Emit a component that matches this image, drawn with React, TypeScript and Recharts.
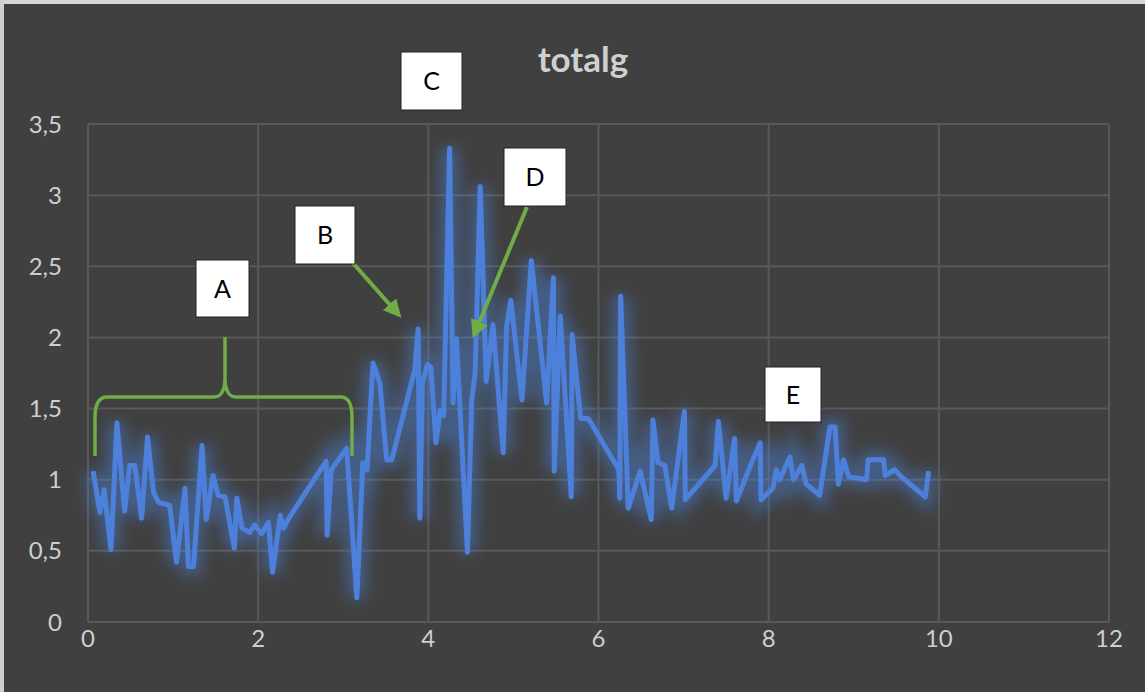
import { CartesianGrid, Line, LineChart, XAxis, YAxis } from 'recharts'

// Werte (Zeit in s, totalg)
const timeS = [
  0.06, 0.14, 0.19, 0.27, 0.34, 0.43, 0.49, 0.55, 0.63, 0.7, 0.77, 0.83, 0.96, 1.04, 1.14, 1.18,
  1.24, 1.34, 1.39, 1.47, 1.53, 1.61, 1.72, 1.75, 1.81, 1.9, 1.96, 2.04, 2.12, 2.17, 2.26, 2.3,
  2.35, 2.8, 2.81, 2.86, 3.04, 3.16, 3.23, 3.28, 3.35, 3.43, 3.51, 3.57, 3.84, 3.88, 3.9, 3.93,
  3.99, 4.03, 4.09, 4.14, 4.18, 4.25, 4.29, 4.33, 4.46, 4.51, 4.55, 4.61, 4.68, 4.76, 4.88, 4.92,
  4.97, 5.1, 5.21, 5.39, 5.47, 5.48, 5.55, 5.68, 5.69, 5.79, 5.88, 6.24, 6.25, 6.26, 6.35, 6.49,
  6.62, 6.64, 6.7, 6.78, 6.86, 7.01, 7.02, 7.37, 7.41, 7.5, 7.6, 7.62, 7.78, 7.9, 7.91, 8.05,
  8.09, 8.13, 8.25, 8.29, 8.39, 8.44, 8.6, 8.72, 8.78, 8.82, 8.88, 8.94, 9.15, 9.17, 9.35, 9.37,
  9.48, 9.56, 9.84, 9.88,
]
const totalg = [
  1.06, 0.77, 0.93, 0.51, 1.4, 0.78, 1.1, 1.1, 0.73, 1.3, 0.91, 0.84, 0.82, 0.42, 0.94, 0.39,
  0.39, 1.24, 0.72, 1.03, 0.89, 0.88, 0.52, 0.87, 0.66, 0.63, 0.68, 0.62, 0.7, 0.35, 0.75, 0.66,
  0.72, 1.13, 0.61, 1.07, 1.22, 0.17, 1.12, 1.07, 1.82, 1.68, 1.14, 1.14, 1.77, 2.06, 0.73, 1.68,
  1.81, 1.79, 1.26, 1.49, 1.45, 3.33, 1.54, 1.99, 0.49, 1.56, 1.75, 3.06, 1.69, 2.09, 1.19, 2.08,
  2.26, 1.56, 2.54, 1.54, 2.42, 1.06, 2.15, 0.88, 2.02, 1.43, 1.43, 1.07, 0.87, 2.29, 0.8, 1.06,
  0.72, 1.42, 1.12, 1.1, 0.8, 1.48, 0.86, 1.1, 1.41, 0.87, 1.29, 0.85, 1.09, 1.26, 0.86, 0.94,
  1.07, 1.0, 1.16, 1.0, 1.1, 0.97, 0.89, 1.37, 1.37, 0.97, 1.14, 1.02, 1.0, 1.14, 1.14, 1.03,
  1.07, 1.02, 0.88, 1.06,
]
const xTicks = [0, 2, 4, 6, 8, 10, 12]
const yTicks = [0, 0.5, 1, 1.5, 2, 2.5, 3, 3.5]

const data = timeS.map((t, i) => ({ t, g: totalg[i] }))

const FONT = 'Lato, "Open Sans", sans-serif'
const GREEN = '#70ad47'
const tickStyle = { fill: '#cfcfcf', fontSize: 24, fontFamily: FONT }

// Beschriftungskästen A–E
const boxes = [
  { label: 'A', x: 196, y: 260, w: 53, h: 57 },
  { label: 'B', x: 295, y: 206, w: 60, h: 58 },
  { label: 'C', x: 401, y: 52, w: 61, h: 58 },
  { label: 'D', x: 504, y: 148, w: 62, h: 58 },
  { label: 'E', x: 765, y: 367, w: 56, h: 55 },
]

function Annotations() {
  return (
    <svg
      width={1145}
      height={692}
      style={{ position: 'absolute', left: 0, top: 0, pointerEvents: 'none' }}
    >
      <defs>
        <marker id="arrow" viewBox="0 0 10 10" refX="8" refY="5" markerWidth="4.5" markerHeight="4.5" orient="auto">
          <path d="M0,0 L10,5 L0,10 z" fill={GREEN} />
        </marker>
      </defs>
      <path
        d="M95,456 L95,418 Q95,397 107,397 L214,397 Q224,397 225,380 L225,337 M225,380 Q226,397 236,397 L341,397 Q352,397 352,418 L352,456"
        fill="none"
        stroke={GREEN}
        strokeWidth={3.5}
      />
      <line x1={352} y1={262} x2={399} y2={315} stroke={GREEN} strokeWidth={4} markerEnd="url(#arrow)" />
      <line x1={527} y1={207} x2={474} y2={335} stroke={GREEN} strokeWidth={4} markerEnd="url(#arrow)" />
      {boxes.map((b) => (
        <g key={b.label}>
          <rect x={b.x} y={b.y} width={b.w} height={b.h} fill="#fff" stroke="#222" strokeWidth={1} />
          <text
            x={b.x + b.w / 2}
            y={b.y + b.h / 2 + 9}
            textAnchor="middle"
            fontSize={25}
            fontFamily={FONT}
            fill="#000"
          >
            {b.label}
          </text>
        </g>
      ))}
    </svg>
  )
}

export default function App() {
  return (
    <div
      style={{
        position: 'fixed',
        left: 0,
        top: 0,
        width: 1145,
        height: 692,
        background: '#404040',
        overflow: 'hidden',
      }}
    >
      <div style={{ position: 'absolute', left: 0, top: 0, width: 1145, height: 4, background: '#d6d6d6' }} />
      <div style={{ position: 'absolute', left: 0, top: 0, width: 4, height: 692, background: '#cfcfcf' }} />
      <div
        style={{
          position: 'absolute',
          top: 37,
          left: 0,
          width: 1166,
          textAlign: 'center',
          color: '#d0d0d0',
          fontFamily: FONT,
          fontWeight: 700,
          fontSize: 35,
        }}
      >
        totalg
      </div>
      <LineChart
        width={1145}
        height={692}
        data={data}
        margin={{ top: 124, right: 36, left: 0, bottom: 0 }}
        style={{ position: 'absolute', left: 0, top: 0 }}
      >
        <defs>
          <filter id="glow" x="-5%" y="-5%" width="110%" height="110%">
            <feGaussianBlur stdDeviation="7" />
          </filter>
        </defs>
        <CartesianGrid stroke="#595959" strokeWidth={2} />
        <XAxis
          dataKey="t"
          type="number"
          domain={[0, 12]}
          ticks={xTicks}
          height={70}
          axisLine={false}
          tickLine={false}
          tickSize={0}
          tickMargin={8}
          tick={tickStyle}
          interval={0}
        />
        <YAxis
          type="number"
          domain={[0, 3.5]}
          ticks={yTicks}
          width={88}
          axisLine={false}
          tickLine={false}
          tickSize={0}
          tickMargin={26}
          tick={tickStyle}
          interval={0}
          tickFormatter={(v: number) => String(v).replace('.', ',')}
        />
        <Line
          dataKey="g"
          type="linear"
          stroke="#4a86e8"
          strokeWidth={18}
          strokeOpacity={0.4}
          filter="url(#glow)"
          dot={false}
          activeDot={false}
          isAnimationActive={false}
        />
        <Line
          dataKey="g"
          type="linear"
          stroke="#4d80da"
          strokeWidth={5}
          strokeLinejoin="round"
          dot={false}
          activeDot={false}
          isAnimationActive={false}
        />
      </LineChart>
      <Annotations />
    </div>
  )
}
